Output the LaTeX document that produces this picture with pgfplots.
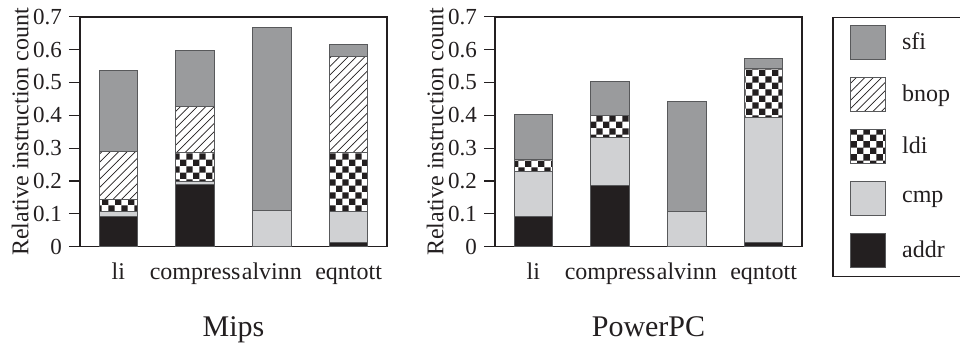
\documentclass[border=0pt]{standalone}
\usepackage{fontspec}
\setmainfont{Liberation Serif}
\usepackage{pgfplots}
\pgfplotsset{compat=1.18}
\usetikzlibrary{patterns}

\definecolor{axcol}{HTML}{231F20}
\definecolor{sficol}{HTML}{9A9B9D}
\definecolor{cmpcol}{HTML}{D0D1D3}
\definecolor{addrcol}{HTML}{231F20}
\definecolor{edgecol}{HTML}{58595B}

\pgfdeclarepatternformonly{diag}{\pgfqpoint{-1pt}{-1pt}}{\pgfqpoint{5.2pt}{5.2pt}}{\pgfqpoint{4.2pt}{4.2pt}}{%
  \pgfsetlinewidth{0.35pt}%
  \pgfpathmoveto{\pgfqpoint{0pt}{0pt}}\pgfpathlineto{\pgfqpoint{4.3pt}{4.3pt}}\pgfusepath{stroke}}
\pgfdeclarepatternformonly{checker}{\pgfqpoint{0pt}{0pt}}{\pgfqpoint{6.4pt}{6.4pt}}{\pgfqpoint{6.4pt}{6.4pt}}{%
  \pgfpathrectangle{\pgfqpoint{0pt}{0pt}}{\pgfqpoint{3.2pt}{3.2pt}}%
  \pgfpathrectangle{\pgfqpoint{3.2pt}{3.2pt}}{\pgfqpoint{3.2pt}{3.2pt}}\pgfusepath{fill}}

\pgfplotsset{
  myaxis/.style={
    scale only axis, width=153.5pt, height=115pt,
    ybar stacked, bar width=19.2pt,
    xmin=-0.5, xmax=3.5, ymin=0, ymax=0.7,
    xtick={0,1,2,3}, xticklabels={li,compress,alvinn,eqntott},
    ytick={0,0.1,0.2,0.3,0.4,0.5,0.6,0.7},
    yticklabels={0,0.1,0.2,0.3,0.4,0.5,0.6,0.7},
    axis line style={line width=0.8pt, draw=axcol},
    ytick align=outside, ytick pos=left, major tick length=5.5pt,
    xtick style={draw=none},
    ytick style={line width=0.6pt, draw=axcol},
    tick label style={font=\fontsize{12}{14}\selectfont, text=axcol},
    yticklabel style={font=\fontsize{11.5}{14}\selectfont},
    xticklabel style={anchor=base, yshift=-16.5pt},
    ylabel={Relative instruction count},
    every axis y label/.style={at={(axis description cs:-0.195,0.5)}, rotate=90, anchor=center,
      font=\fontsize{12}{14}\selectfont, text=axcol},
    every axis x label/.style={at={(axis description cs:0.5,0)}, anchor=base, yshift=-45pt,
      font=\fontsize{15}{18}\selectfont, text=axcol},
    clip=false,
  },
  addrsty/.style={fill=addrcol, draw=edgecol, line width=0.5pt},
  cmpsty/.style={fill=cmpcol, draw=edgecol, line width=0.5pt},
  ldisty/.style={pattern=checker, pattern color=axcol, draw=edgecol, line width=0.5pt},
  bnopsty/.style={pattern=diag, pattern color=axcol, draw=edgecol, line width=0.5pt},
  sfisty/.style={fill=sficol, draw=edgecol, line width=0.5pt},
}

\begin{document}
\begin{tikzpicture}
\path[use as bounding box] (0,0) rectangle (480pt,173pt);

\begin{axis}[myaxis, at={(40pt,49.65pt)}, anchor=south west, xlabel={Mips}]
\addplot[addrsty] coordinates {(0,0.091) (1,0.190) (2,0) (3,0.013)};
\addplot[cmpsty]  coordinates {(0,0.015) (1,0.008) (2,0.1095) (3,0.0955)};
\addplot[ldisty]  coordinates {(0,0.038) (1,0.088) (2,0) (3,0.179)};
\addplot[bnopsty] coordinates {(0,0.145) (1,0.142) (2,0) (3,0.291)};
\addplot[sfisty]  coordinates {(0,0.2465) (1,0.170) (2,0.5575) (3,0.038)};
\end{axis}

\begin{axis}[myaxis, at={(247.5pt,49.65pt)}, anchor=south west, xlabel={PowerPC},
  reverse legend,
  legend cell align=left,
  legend image code/.code={\draw[#1] (0pt,-8.5pt) rectangle (17.5pt,8.5pt);},
  legend style={at={(1,1)}, xshift=15.25pt, anchor=north west, draw=axcol, line width=0.6pt,
    inner xsep=8.5pt, inner ysep=4pt, row sep=8.5pt, column sep=8pt,
    font=\fontsize{12}{14}\selectfont, text=axcol,
    nodes={inner sep=0pt, text width=23.5pt, align=left}},
]
\addplot[addrsty] coordinates {(0,0.091) (1,0.187) (2,0) (3,0.013)};
\addplot[cmpsty]  coordinates {(0,0.139) (1,0.145) (2,0.1085) (3,0.3805)};
\addplot[ldisty]  coordinates {(0,0.034) (1,0.068) (2,0) (3,0.150)};
\addplot[bnopsty] coordinates {(0,0) (1,0) (2,0) (3,0)};
\addplot[sfisty]  coordinates {(0,0.1397) (1,0.102) (2,0.3335) (3,0.0304)};
\legend{addr,cmp,ldi,bnop,sfi}
\end{axis}
\end{tikzpicture}
\end{document}
